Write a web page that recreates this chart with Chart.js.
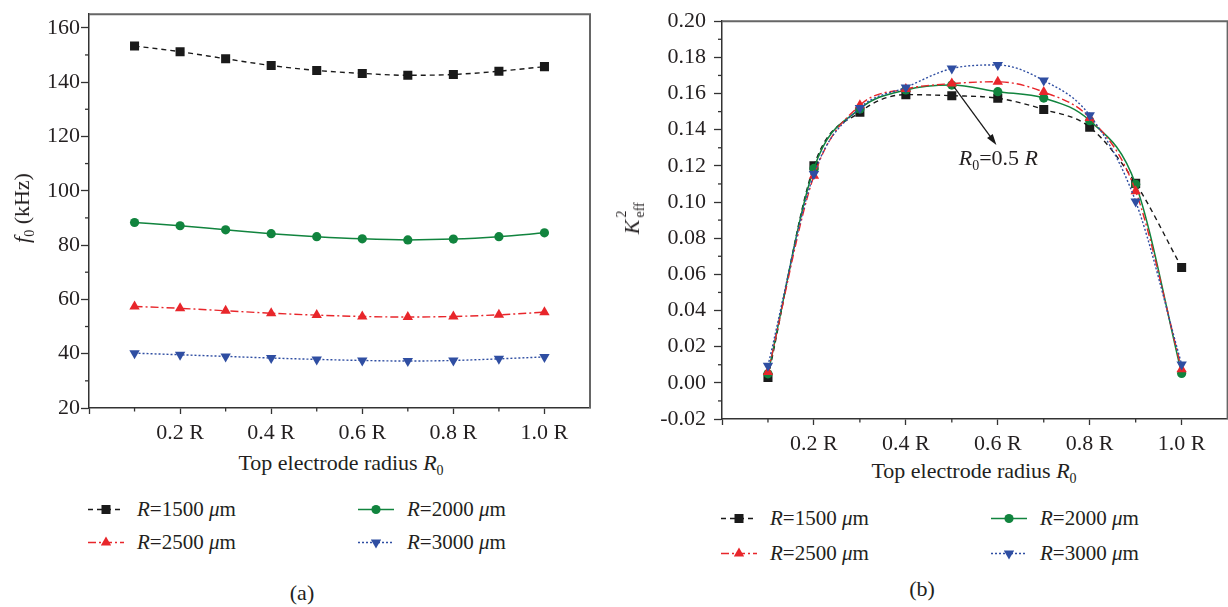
<!DOCTYPE html>
<html>
<head>
<meta charset="utf-8">
<script src="https://cdn.jsdelivr.net/npm/chart.js@4.4.1/dist/chart.umd.min.js"></script>
<style>
body{margin:0;width:1228px;height:607px;overflow:hidden;background:#fff;position:relative;font-family:"Liberation Serif","DejaVu Serif",serif;color:#231f20;}
canvas{position:absolute;top:0;}
.text{position:absolute;white-space:nowrap;font-size:22px;line-height:1;}
.titolY{transform:translate(-50%,-50%) rotate(-90deg);}
.titolX{transform:translate(-50%,-50%);}
sub{font-size:14px;vertical-align:-5px;line-height:0;}
.pila{position:relative;display:inline-block;width:22px;height:22px;vertical-align:top;font-size:14px;}
.pila span{position:absolute;left:2px;}
.llegenda{position:absolute;display:flex;align-items:center;font-size:21px;white-space:nowrap;transform:translateY(-50%);line-height:1;}
.llegenda svg{margin-right:13px;}
</style>
</head>
<body>

<canvas id="graficA" width="614" height="440" style="left:0"></canvas>
<canvas id="graficB" width="620" height="450" style="left:614px"></canvas>

<div class="text titolY" style="left:22px;top:208px"><i>f</i><sub>0</sub> (kHz)</div>
<div class="text titolX" style="left:341px;top:463px">Top electrode radius <i>R</i><sub>0</sub></div>
<div class="text" style="left:302px;top:593px;transform:translate(-50%,-50%)">(a)</div>

<div class="text titolY" style="left:632px;top:216px"><i>K</i><span class="pila"><span style="top:-6px">2</span><span style="top:12px">eff</span></span></div>
<div class="text titolX" style="left:974px;top:471px">Top electrode radius <i>R</i><sub>0</sub></div>
<div class="text" style="left:922px;top:589px;transform:translate(-50%,-50%)">(b)</div>

<div id="llegendes"></div>

<script>
/* ============================================================
   DADES
============================================================ */

const posicions=[0.1,0.2,0.3,0.4,0.5,0.6,0.7,0.8,0.9,1.0];

// freqüència de ressonància f0 (kHz)
const f1500=[153.3,151.2,148.6,146.1,144.3,143.2,142.5,142.8,144.0,145.7];
const f2000=[88.3,87.1,85.6,84.2,83.1,82.3,81.9,82.2,83.1,84.5];
const f2500=[57.4,56.7,55.8,54.9,54.2,53.7,53.5,53.7,54.3,55.3];
const f3000=[40.2,39.6,39.0,38.4,37.9,37.5,37.3,37.5,38.1,38.8];

// coeficient d'acoblament K_eff^2
const k1500=[0.003,0.120,0.1497,0.1594,0.1588,0.1574,0.1512,0.1414,0.1103,0.0638];
const k2000=[0.005,0.1186,0.1515,0.1620,0.1647,0.1610,0.1575,0.1450,0.1098,0.0052];
const k2500=[0.006,0.1145,0.1535,0.1625,0.1655,0.1665,0.1608,0.1465,0.1060,0.0075];
const k3000=[0.0095,0.1155,0.1520,0.1634,0.1738,0.1758,0.1672,0.1480,0.1003,0.0102];

const ticsX=[0,0.2,0.4,0.6,0.8,1.0];
const ticsXmenors=[0.1,0.3,0.5,0.7,0.9];
const ticsYa=[20,40,60,80,100,120,140,160];
const ticsYaMenors=[30,50,70,90,110,130,150];
const ticsYb=[-0.02,0,0.02,0.04,0.06,0.08,0.10,0.12,0.14,0.16,0.18,0.20];
const ticsYbMenors=[-0.01,0.01,0.03,0.05,0.07,0.09,0.11,0.13,0.15,0.17,0.19];

const series=[
    {nom:"1500",color:"#1a1a1a",traç:[5,4],punt:"rect",radi:6.4,girs:0},
    {nom:"2000",color:"#11843e",traç:[],punt:"circle",radi:4.6,girs:0},
    {nom:"2500",color:"#e8262b",traç:[8,3,2,3],punt:"triangle",radi:6,girs:0},
    {nom:"3000",color:"#2f4ea2",traç:[2,2],punt:"triangle",radi:6,girs:180}
];

const colorEix="#333";
const familia="'Liberation Serif','DejaVu Serif',serif";
const lletra={family:familia,size:22};


/* ============================================================
   PLUGINS
============================================================ */

const ticsMenors={

    id:"ticsMenors",

    afterDraw(chart,args,opts){

        const ctx=chart.ctx;
        const a=chart.chartArea;

        ctx.save();
        ctx.strokeStyle=colorEix;
        ctx.lineWidth=1.3;

        opts.x.forEach(v=>{
            const px=chart.scales.x.getPixelForValue(v);
            ctx.beginPath();
            ctx.moveTo(px,a.bottom);
            ctx.lineTo(px,a.bottom+3.5);
            ctx.stroke();
        });

        opts.y.forEach(v=>{
            const py=chart.scales.y.getPixelForValue(v);
            ctx.beginPath();
            ctx.moveTo(a.left-4,py);
            ctx.lineTo(a.left,py);
            ctx.stroke();
        });

        // vora superior i dreta en gris
        ctx.strokeStyle="#666";
        ctx.lineWidth=2;
        ctx.beginPath();
        ctx.moveTo(a.left,a.top);
        ctx.lineTo(a.right,a.top);
        ctx.lineTo(a.right,a.bottom);
        ctx.stroke();

        ctx.restore();
    }
};

const anotacio={

    id:"anotacio",

    afterDatasetsDraw(chart,args,opts){

        if(!opts.inici) return;

        const sx=chart.scales.x, sy=chart.scales.y;
        const x0=sx.getPixelForValue(opts.inici[0]), y0=sy.getPixelForValue(opts.inici[1]);
        const x1=sx.getPixelForValue(opts.final[0]), y1=sy.getPixelForValue(opts.final[1]);
        const ctx=chart.ctx;

        ctx.save();
        ctx.strokeStyle="#1a1a1a";
        ctx.fillStyle="#1a1a1a";
        ctx.lineWidth=1.3;

        const ang=Math.atan2(y1-y0,x1-x0);
        ctx.beginPath();
        ctx.moveTo(x0,y0);
        ctx.lineTo(x1-8*Math.cos(ang),y1-8*Math.sin(ang));
        ctx.stroke();

        ctx.beginPath();
        ctx.moveTo(x1,y1);
        ctx.lineTo(x1-11*Math.cos(ang)+3.5*Math.sin(ang),y1-11*Math.sin(ang)-3.5*Math.cos(ang));
        ctx.lineTo(x1-11*Math.cos(ang)-3.5*Math.sin(ang),y1-11*Math.sin(ang)+3.5*Math.cos(ang));
        ctx.closePath();
        ctx.fill();

        // text R0=0.5 R
        let tx=sx.getPixelForValue(opts.text[0]);
        const ty=sy.getPixelForValue(opts.text[1]);
        ctx.fillStyle="#231f20";
        ctx.textBaseline="alphabetic";
        const trossos=[
            ["italic 22px "+familia,"R",0],
            ["14px "+familia,"0",5],
            ["22px "+familia,"=0.5 ",0],
            ["italic 22px "+familia,"R",0]
        ];
        trossos.forEach(t=>{
            ctx.font=t[0];
            ctx.fillText(t[1],tx,ty+t[2]);
            tx+=ctx.measureText(t[1]).width;
        });

        ctx.restore();
    }
};


/* ============================================================
   GRÀFICS
============================================================ */

function crearGrafic(id,valors,cfg){

    const datasets=series.map((s,i)=>({
        label:"R="+s.nom+" μm",
        data:posicions.map((p,j)=>({x:p,y:valors[i][j]})),
        borderColor:s.color,
        backgroundColor:s.color,
        borderWidth:s.traç.length?1.4:1.5,
        borderDash:s.traç,
        pointStyle:s.punt,
        pointRadius:s.radi,
        pointRotation:s.girs,
        pointBorderWidth:0,
        tension:0.4,
        cubicInterpolationMode:"monotone",
        order:3-i
    }));

    new Chart(document.getElementById(id),{

        type:"line",

        data:{datasets},

        options:{
            responsive:false,
            animation:false,
            devicePixelRatio:1,
            layout:{padding:cfg.padding},
            plugins:{
                legend:{display:false},
                tooltip:{enabled:false},
                ticsMenors:{x:ticsXmenors,y:cfg.menors},
                anotacio:cfg.anotacio||{}
            },
            scales:{
                x:{
                    type:"linear",
                    min:0,
                    max:1.1,
                    afterBuildTicks:s=>{s.ticks=ticsX.map(v=>({value:v}));},
                    afterFit:s=>{s.height=cfg.alcadaX;},
                    ticks:{
                        callback:v=>v===0?"":v.toFixed(1)+" R",
                        font:lletra,
                        color:"#231f20",
                        padding:6,
                        maxRotation:0,
                        autoSkip:false
                    },
                    grid:{drawOnChartArea:false,tickLength:6,tickColor:colorEix,tickWidth:1.3},
                    border:{color:colorEix,width:1.5}
                },
                y:{
                    type:"linear",
                    min:cfg.min,
                    max:cfg.max,
                    afterBuildTicks:s=>{s.ticks=cfg.tics.map(v=>({value:v}));},
                    afterFit:s=>{s.width=cfg.ampleY;},
                    ticks:{
                        callback:cfg.format,
                        font:lletra,
                        color:"#231f20",
                        padding:cfg.padY,
                        autoSkip:false
                    },
                    grid:{drawOnChartArea:false,tickLength:8,tickColor:colorEix,tickWidth:1.3},
                    border:{color:colorEix,width:1.5}
                }
            }
        },

        plugins:[ticsMenors,anotacio]
    });
}

crearGrafic("graficA",[f1500,f2000,f2500,f3000],{
    padding:{top:6,right:24,left:0,bottom:0},
    alcadaX:32,
    ampleY:89,
    padY:1,
    min:20,
    max:165,
    tics:ticsYa,
    menors:ticsYaMenors,
    format:v=>String(v)
});

crearGrafic("graficB",[k1500,k2000,k2500,k3000],{
    padding:{top:18,right:6,left:0,bottom:0},
    alcadaX:31,
    ampleY:108,
    padY:8,
    min:-0.02,
    max:0.20,
    tics:ticsYb,
    menors:ticsYbMenors,
    format:v=>v.toFixed(2),
    anotacio:{inici:[0.505,0.1635],final:[0.597,0.1316],text:[0.515,0.1206]}
});


/* ============================================================
   LLEGENDES
============================================================ */

function simbol(s){

    const c=s.color;
    const traç=s.traç.length?` stroke-dasharray="${s.traç.join(",")}"`:"";
    let marca="";

    if(s.punt==="rect") marca=`<rect x="13.5" y="2.5" width="9" height="9" fill="${c}"/>`;
    else if(s.punt==="circle") marca=`<circle cx="18" cy="7" r="4.6" fill="${c}"/>`;
    else if(s.girs===0) marca=`<polygon points="18,1 23.2,10 12.8,10" fill="${c}"/>`;
    else marca=`<polygon points="18,13 23.2,4 12.8,4" fill="${c}"/>`;

    return `<svg width="36" height="14"><line x1="0" y1="7" x2="36" y2="7" stroke="${c}" stroke-width="1.4"${traç}/>${marca}</svg>`;
}

const llocsLlegenda=[
    [[88,509],[358,509],[88,542],[358,542]],
    [[721,518],[991,518],[721,553],[991,553]]
];
const ordreLlegenda=[0,1,2,3];

let html="";
llocsLlegenda.forEach(llocs=>{
    ordreLlegenda.forEach((idx,k)=>{
        const s=series[idx];
        html+=`<div class="llegenda" style="left:${llocs[k][0]}px;top:${llocs[k][1]}px">${simbol(s)}<span><i>R</i>=${s.nom} <i>μ</i>m</span></div>`;
    });
});
document.getElementById("llegendes").innerHTML=html;
</script>
</body>
</html>
